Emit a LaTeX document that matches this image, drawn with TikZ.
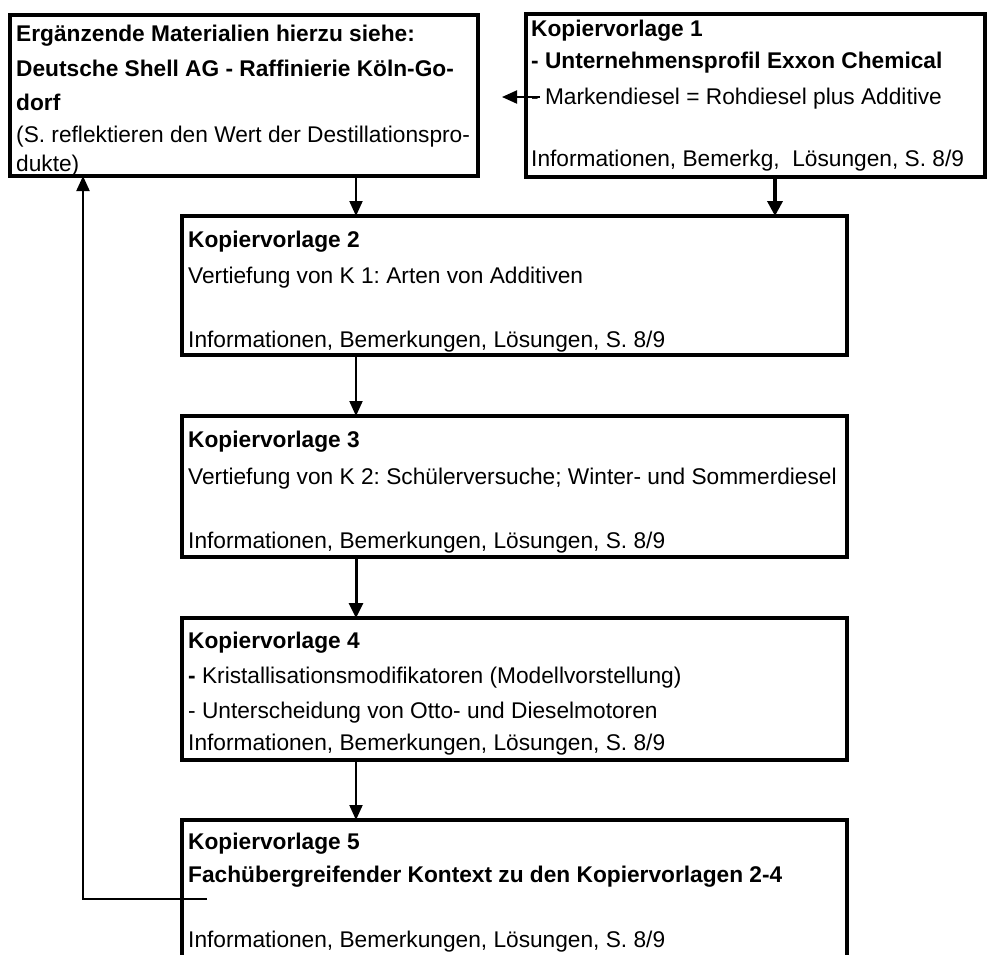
\documentclass[tikz,border=0pt]{standalone}
\usepackage{fontspec}
\setmainfont{Liberation Sans}
\usetikzlibrary{arrows.meta}
\frenchspacing
\begin{document}
\begin{tikzpicture}[x=1pt,y=-1pt,
  box/.style={draw, line width=3.5pt, inner sep=0pt, outer sep=0pt, anchor=north west},
  txt/.style={anchor=base west, inner sep=0pt, font=\fontsize{22.7}{27}\selectfont},
  btxt/.style={anchor=base west, inner sep=0pt, font=\fontsize{22.7}{27}\selectfont\bfseries},
  arr/.style={line width=2pt, -{Triangle[length=15pt,width=13pt]}},
  thickarr/.style={line width=3.5pt, -{Triangle[length=15pt,width=15pt]}},
  midarr/.style={line width=3pt, -{Triangle[length=15pt,width=14pt]}}]
\clip (0,0) rectangle (987,954);
\fill[white] (0,0) rectangle (987,954);
% boxes
\node[box, minimum width=468pt, minimum height=161pt] (A) at (10,15) {};
\node[box, minimum width=459pt, minimum height=163pt] (K1) at (526,14) {};
\node[box, minimum width=665pt, minimum height=139pt] (K2) at (182,216) {};
\node[box, minimum width=665pt, minimum height=141pt] (K3) at (182,416) {};
\node[box, minimum width=665pt, minimum height=142pt] (K4) at (182,618) {};
\node[box, minimum width=665pt, minimum height=200pt] (K5) at (182,820) {};
% texts A
\node[btxt] (a1) at (16,41) {Ergänzende Materialien hierzu siehe:};
\node[btxt] (a2) at (16,76) {Deutsche Shell AG - Raffinierie Köln-Go-};
\node[btxt] (a3) at (16,110) {dorf};
\node[txt] (a4) at (16,142) {(S. reflektieren den Wert der Destillationspro-};
\node[txt] (a5) at (16,171) {dukte)};
% texts K1
\node[btxt] (b1) at (531,36) {Kopiervorlage 1};
\node[btxt] (b2) at (531,68) {- Unternehmensprofil Exxon Chemical};
\node[txt] (b3) at (531,104) {- Markendiesel = Rohdiesel plus Additive};
\node[txt] (b4) at (531,166) {Informationen, Bemerkg,\ \ Lösungen, S. 8/9};
% texts K2
\node[btxt] (c1) at (188,247) {Kopiervorlage 2};
\node[txt] (c2) at (188,283) {Vertiefung von K 1: Arten von Additiven};
\node[txt] (c3) at (188,347) {Informationen, Bemerkungen, Lösungen, S. 8/9};
% texts K3
\node[btxt] (d1) at (188,447) {Kopiervorlage 3};
\node[txt] (d2) at (188,484) {Vertiefung von K 2: Schülerversuche; Winter- und Sommerdiesel};
\node[txt] (d3) at (188,548) {Informationen, Bemerkungen, Lösungen, S. 8/9};
% texts K4
\node[btxt] (e1) at (188,648) {Kopiervorlage 4};
\node[txt] (e2) at (188,683) {\textbf{-} Kristallisationsmodifikatoren (Modellvorstellung)};
\node[txt] (e3) at (188,718) {- Unterscheidung von Otto- und Dieselmotoren};
\node[txt] (e4) at (188,750) {Informationen, Bemerkungen, Lösungen, S. 8/9};
% texts K5
\node[btxt] (f1) at (188,849) {Kopiervorlage 5};
\node[btxt] (f2) at (188,882) {Fachübergreifender Kontext zu den Kopiervorlagen 2-4};
\node[txt] (f3) at (188,947) {Informationen, Bemerkungen, Lösungen, S. 8/9};
% helper coordinates
\coordinate (xm) at (356,0);
\coordinate (xr) at (775,0);
\coordinate (xl) at (83,0);
\coordinate (k1s) at (540,97);
\coordinate (atip) at (502,97);
\coordinate (fbs) at (207,899);
% connectors
\draw[arr] (k1s) -- (atip);
\draw[arr] (A.south -| xm) -- (K2.north -| xm);
\draw[thickarr] (K1.south -| xr) -- (K2.north -| xr);
\draw[arr] (K2.south -| xm) -- (K3.north -| xm);
\draw[midarr] (K3.south -| xm) -- (K4.north -| xm);
\draw[arr] (K4.south -| xm) -- (K5.north -| xm);
\draw[arr] (fbs) -| (A.south -| xl);
\end{tikzpicture}
\end{document}
